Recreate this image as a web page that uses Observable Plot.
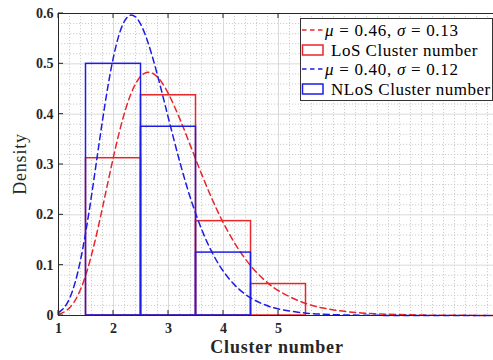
<!DOCTYPE html>
<html><head><meta charset="utf-8">
<script src="https://cdn.jsdelivr.net/npm/d3@7"></script>
<script src="https://cdn.jsdelivr.net/npm/@observablehq/plot@0.6"></script>
<style>html,body{margin:0;padding:0;background:#fff;overflow:hidden}svg{display:block}</style>
</head><body><div id="chart"></div>
<script>
// ---- data ----
const xTicks = [1, 2, 3, 4, 5];
const yTicks = [0, 0.1, 0.2, 0.3, 0.4, 0.5, 0.6];
const yTickLabels = ["0", "0.1", "0.2", "0.3", "0.4", "0.5", "0.6"];

const losBinStart = [1.5, 2.5, 3.5, 4.5];
const losBinEnd   = [2.5, 3.5, 4.5, 5.5];
const losDensity  = [0.3125, 0.4375, 0.1875, 0.0625];

const nlosBinStart = [1.5, 2.5, 3.5];
const nlosBinEnd   = [2.5, 3.5, 4.5];
const nlosDensity  = [0.5, 0.375, 0.125];

const curveX = [1.0, 1.1, 1.2, 1.3, 1.4, 1.5, 1.6, 1.7, 1.8, 1.9, 2.0, 2.1, 2.2, 2.3, 2.4, 2.5, 2.6, 2.7, 2.8, 2.9, 3.0,
                3.2, 3.4, 3.6, 3.8, 4.0, 4.25, 4.5, 4.75, 5.0, 5.5, 6.0, 6.5, 7.0, 7.5, 8.0, 9.0];
const losCurve = [0.0025, 0.0068, 0.0152, 0.0297, 0.0516, 0.0818, 0.1201, 0.1649, 0.2143, 0.2654, 0.3155, 0.3619, 0.4024, 0.4354, 0.4600, 0.4757, 0.4828, 0.4818, 0.4737, 0.4595, 0.4404,
                  0.3921, 0.3370, 0.2814, 0.2294, 0.1834, 0.1355, 0.0981, 0.0699, 0.0492, 0.0237, 0.0111, 0.0051, 0.0024, 0.0011, 0.0005, 0.0001];
const nlosCurve = [0.0056, 0.0151, 0.0337, 0.0648, 0.1100, 0.1688, 0.2381, 0.3130, 0.3876, 0.4561, 0.5138, 0.5573, 0.5849, 0.5966, 0.5935, 0.5774, 0.5510, 0.5168, 0.4773, 0.4349, 0.3915,
                   0.3074, 0.2330, 0.1717, 0.1237, 0.0875, 0.0555, 0.0346, 0.0213, 0.0130, 0.0047, 0.0017, 0.0006, 0.0002, 0.0001, 0.0000, 0.0000];

const legendLabels = ["LoS Cluster number", "NLoS Cluster number"];
const losParams = ["0.46", "0.13"];
const nlosParams = ["0.40", "0.12"];

// ---- styles ----
const RED = "#e8262a";
const BLUE = "#1c1ce6";
const AX = "#262626";
const FONT = "'Liberation Serif', 'Times New Roman', serif";

const losBars = losDensity.map((d, i) => ({x1: losBinStart[i], x2: losBinEnd[i], y: d}));
const nlosBars = nlosDensity.map((d, i) => ({x1: nlosBinStart[i], x2: nlosBinEnd[i], y: d}));
const losPts = curveX.map((x, i) => ({x, y: losCurve[i]}));
const nlosPts = curveX.map((x, i) => ({x, y: nlosCurve[i]}));

const minorX = d3.range(0, 41).map(i => 1 + i * 0.2).filter(v => !xTicks.some(t => Math.abs(t - v) < 1e-6));
const minorY = d3.range(0, 31).map(i => i * 0.02).filter(v => !yTicks.some(t => Math.abs(t - v) < 1e-6));

const chart = Plot.plot({
  width: 493,
  height: 360,
  marginLeft: 58,
  marginRight: -5,
  marginTop: 13,
  marginBottom: 45,
  style: {fontFamily: FONT, background: "#fff", overflow: "hidden"},
  x: {domain: [1, 9]},
  y: {domain: [0, 0.6]},
  marks: [
    Plot.ruleX(minorX, {stroke: "#c2c2c2", strokeWidth: 0.8, strokeDasharray: "1.2,1.8"}),
    Plot.ruleY(minorY, {stroke: "#c2c2c2", strokeWidth: 0.8, strokeDasharray: "1.2,1.8"}),
    Plot.ruleX(xTicks, {stroke: "#dadada", strokeWidth: 1}),
    Plot.ruleY(yTicks, {stroke: "#dadada", strokeWidth: 1}),
    Plot.line(losPts, {x: "x", y: "y", stroke: RED, strokeWidth: 1.5, strokeDasharray: "6,4", curve: "catmull-rom"}),
    Plot.rect(losBars, {x1: "x1", x2: "x2", y1: 0, y2: "y", fill: "none", stroke: RED, strokeWidth: 1.5}),
    Plot.line(nlosPts, {x: "x", y: "y", stroke: BLUE, strokeWidth: 1.5, strokeDasharray: "6,4", curve: "catmull-rom"}),
    Plot.rect(nlosBars, {x1: "x1", x2: "x2", y1: 0, y2: "y", fill: "none", stroke: BLUE, strokeWidth: 1.5}),
    Plot.frame({stroke: AX, strokeWidth: 1}),
    Plot.axisX(xTicks, {tickSize: 0, tickPadding: 8, fontSize: 14, fontWeight: "bold", fill: AX, label: null}),
    Plot.axisY(yTicks, {tickSize: 0, tickPadding: 5, fontSize: 14, fontWeight: "bold", fill: AX, label: null,
                        tickFormat: (d) => yTickLabels[yTicks.indexOf(d)]})
  ]
});
document.getElementById("chart").appendChild(chart);

// inward tick marks, axis titles and legend drawn with the chart's scales
const sx = chart.scale("x"), sy = chart.scale("y");
const svg = d3.select(chart);
const g = svg.append("g").attr("stroke", AX).attr("stroke-width", 1);
const yb = sy.apply(0), yt = sy.apply(0.6), xl = sx.apply(1);
xTicks.forEach(t => {
  const x = sx.apply(t);
  g.append("line").attr("x1", x).attr("x2", x).attr("y1", yb).attr("y2", yb - 5);
  g.append("line").attr("x1", x).attr("x2", x).attr("y1", yt).attr("y2", yt + 5);
});
yTicks.forEach(t => {
  const y = sy.apply(t);
  g.append("line").attr("x1", xl).attr("x2", xl + 5).attr("y1", y).attr("y2", y);
});

svg.append("text").text("Cluster number")
  .attr("x", 277).attr("y", 353).attr("text-anchor", "middle").attr("letter-spacing", 0.8)
  .attr("font-family", FONT).attr("font-size", 18).attr("font-weight", "bold").attr("fill", AX);
svg.append("text").text("Density")
  .attr("transform", `translate(26,164) rotate(-90)`).attr("text-anchor", "middle").attr("letter-spacing", 0.8)
  .attr("font-family", FONT).attr("font-size", 18).attr("font-weight", "normal").attr("fill", AX);

const lg = svg.append("g").attr("font-family", FONT).attr("font-size", 17).attr("fill", "#000")
  .attr("text-anchor", "start").attr("letter-spacing", 0.5);
lg.append("rect").attr("x", 300.5).attr("y", 18.5).attr("width", 192).attr("height", 82)
  .attr("fill", "#fff").attr("stroke", "#333").attr("stroke-width", 1);
const rows = [
  {type: "line", color: RED, params: losParams, y: 30},
  {type: "rect", color: RED, label: legendLabels[0], y: 50},
  {type: "line", color: BLUE, params: nlosParams, y: 69},
  {type: "rect", color: BLUE, label: legendLabels[1], y: 89}
];
rows.forEach(r => {
  if (r.type === "line") {
    lg.append("line").attr("x1", 302).attr("x2", 324).attr("y1", r.y).attr("y2", r.y)
      .attr("stroke", r.color).attr("stroke-width", 1.5).attr("stroke-dasharray", "4.5,3.5");
    const t = lg.append("text").attr("x", 325).attr("y", r.y + 5.5).attr("text-anchor", "start")
      .attr("letter-spacing", 0.7);
    t.append("tspan").attr("font-style", "italic").text("μ");
    t.append("tspan").text(` = ${r.params[0]}, `);
    t.append("tspan").attr("font-style", "italic").text("σ");
    t.append("tspan").text(` = ${r.params[1]}`);
  } else {
    lg.append("rect").attr("x", 302.5).attr("y", r.y - 5).attr("width", 20.5).attr("height", 10)
      .attr("fill", "none").attr("stroke", r.color).attr("stroke-width", 1.5);
    lg.append("text").attr("x", 331).attr("y", r.y + 5.5).attr("text-anchor", "start").text(r.label);
  }
});
</script>
</body></html>
